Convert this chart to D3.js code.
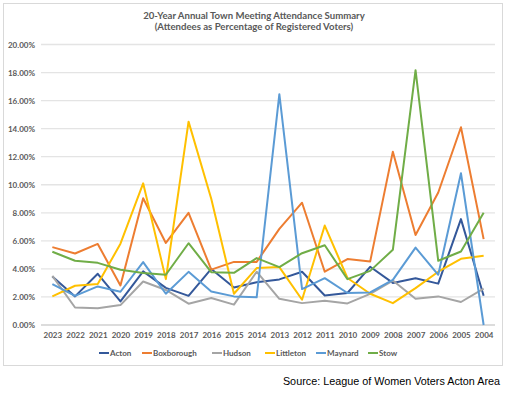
<!DOCTYPE html>
<html>
<head>
<meta charset="utf-8">
<script src="https://cdn.jsdelivr.net/npm/d3@7"></script>
<style>
  body { margin: 0; background: #fff; }
  text { font-family: Lato, "Open Sans", sans-serif; }
</style>
</head>
<body>
<div id="chart"></div>
<script>
// years run from newest to oldest, as in the source sheet
const years = ["2023","2022","2021","2020","2019","2018","2017","2016","2015","2014",
               "2013","2012","2011","2010","2009","2008","2007","2006","2005","2004"];
const acton      = [3.46,2.04,3.65,1.68,3.82,2.65,2.08,4.0,2.68,3.05,3.25,3.8,2.1,2.28,4.15,3.0,3.33,2.95,7.55,2.08];
const boxborough = [5.55,5.1,5.78,2.82,9.04,5.85,8.0,3.95,4.5,4.5,6.85,8.72,3.8,4.7,4.52,12.36,6.42,9.45,14.1,6.12];
const hudson     = [3.5,1.25,1.2,1.42,3.1,2.5,1.52,1.92,1.45,3.8,1.87,1.56,1.73,1.54,2.22,3.17,1.87,2.04,1.64,2.6];
const littleton  = [2.04,2.8,2.92,5.8,10.1,3.27,14.5,9.0,2.23,4.06,4.13,1.8,7.09,3.35,2.23,1.56,2.63,3.8,4.72,4.93];
const maynard    = [2.92,2.08,2.75,2.37,4.48,2.23,3.79,2.39,2.04,1.97,16.46,2.56,3.34,2.28,2.32,3.22,5.52,3.58,10.82,0.0];
const stow       = [5.22,4.58,4.43,3.94,3.7,3.58,5.83,3.77,3.72,4.77,4.13,5.12,5.69,3.27,3.86,5.36,18.17,4.58,5.24,8.0];
const towns  = ["Acton","Boxborough","Hudson","Littleton","Maynard","Stow"];
const values = [acton, boxborough, hudson, littleton, maynard, stow];
const colors = ["#34589a","#ed7d31","#a5a5a5","#ffc000","#5b9bd5","#70ad47"];
const yTicks = [0,2,4,6,8,10,12,14,16,18,20];

const width = 508, height = 393;
const margin = {top: 44.5, right: 13, bottom: 68, left: 41};

const svg = d3.select("#chart").append("svg")
    .attr("width", width)
    .attr("height", height);

// chart frame
svg.append("rect")
    .attr("x", 3.5).attr("y", 3.5)
    .attr("width", 499).attr("height", 362)
    .attr("fill", "#fff")
    .attr("stroke", "#d9d9d9");

const x = d3.scalePoint().domain(years)
    .range([margin.left, width - margin.right]).padding(0.5);
const y = d3.scaleLinear().domain([0, 20])
    .range([height - margin.bottom, margin.top]);

// gridlines
svg.append("g").selectAll("line")
    .data(yTicks)
    .enter().append("line")
    .attr("x1", margin.left).attr("x2", width - margin.right)
    .attr("y1", d => y(d)).attr("y2", d => y(d))
    .attr("stroke", d => d === 0 ? "#d0d0d0" : "#e4e4e4")
    .attr("stroke-width", 1.3);

// y axis labels
const yAxis = svg.append("g")
    .attr("transform", "translate(" + margin.left + ",0)")
    .call(d3.axisLeft(y).tickValues(yTicks).tickSize(0).tickPadding(6)
        .tickFormat(d => d.toFixed(2) + "%"));
yAxis.select(".domain").remove();
yAxis.selectAll("text")
    .attr("fill", "#595959")
    .style("font-size", "8px")
    .style("font-weight", "bold");

// x axis labels
const xAxis = svg.append("g")
    .attr("transform", "translate(0," + y(0) + ")")
    .call(d3.axisBottom(x).tickSize(0).tickPadding(7));
xAxis.select(".domain").remove();
xAxis.selectAll("text")
    .attr("fill", "#595959")
    .style("font-size", "8px")
    .style("font-weight", "bold");

// lines
const line = d3.line()
    .x((d, i) => x(years[i]))
    .y(d => y(d));

svg.append("g").selectAll("path")
    .data(values)
    .enter().append("path")
    .attr("d", line)
    .attr("fill", "none")
    .attr("stroke", (d, i) => colors[i])
    .attr("stroke-width", 2)
    .attr("stroke-linejoin", "round");

// title
svg.append("text")
    .attr("x", 254).attr("y", 19)
    .attr("text-anchor", "middle")
    .attr("fill", "#595959")
    .style("font-size", "9.6px")
    .style("font-weight", "bold")
    .text("20-Year Annual Town Meeting Attendance Summary");
svg.append("text")
    .attr("x", 254).attr("y", 30)
    .attr("text-anchor", "middle")
    .attr("fill", "#595959")
    .style("font-size", "9.6px")
    .style("font-weight", "bold")
    .text("(Attendees as Percentage of Registered Voters)");

// legend
const legendX = [99, 142, 212, 265, 316, 368];
const lg = svg.append("g").selectAll("g")
    .data(towns)
    .enter().append("g")
    .attr("transform", (d, i) => "translate(" + legendX[i] + ",353)");
lg.append("line")
    .attr("x1", 0).attr("x2", 10)
    .attr("stroke", (d, i) => colors[i])
    .attr("stroke-width", 2);
lg.append("text")
    .attr("x", 11).attr("y", 3)
    .attr("fill", "#595959")
    .style("font-size", "8px")
    .style("font-weight", "bold")
    .text(d => d);

// source
svg.append("text")
    .attr("x", 500).attr("y", 385)
    .attr("text-anchor", "end")
    .attr("fill", "#000")
    .style("font-family", "'Liberation Sans', Arial, sans-serif")
    .style("font-size", "10.8px")
    .text("Source: League of Women Voters Acton Area");
</script>
</body>
</html>
